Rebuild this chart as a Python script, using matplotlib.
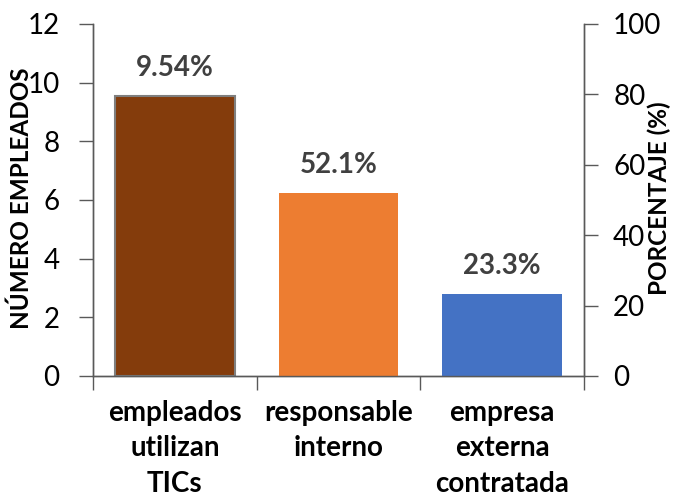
import matplotlib
matplotlib.use("Agg")
import matplotlib.pyplot as plt

# chart data
categories = ["empleados\nutilizan\nTICs", "responsable\ninterno", "empresa\nexterna\ncontratada"]
num_empleados = [9.54]          # left axis (first bar)
porcentajes = [52.1, 23.3]      # right axis (other bars)
bar_labels = ["9.54%", "52.1%", "23.3%"]
colors = ["#843C0C", "#ED7D31", "#4472C4"]

plt.rcParams["font.family"] = ["Lato", "DejaVu Sans"]
axis_color = "#595959"

fig = plt.figure(figsize=(6.82, 4.96), dpi=100)
ax = fig.add_axes([93 / 682, 1 - 376 / 496, 491 / 682, 352 / 496])
ax2 = ax.twinx()

x = list(range(len(categories)))
width = 0.73

ax.bar(x[0], num_empleados[0], width, color=colors[0], edgecolor="#7F7F7F", linewidth=1.5)
ax2.bar(x[1:], porcentajes, width, color=colors[1:], linewidth=0)

ax.set_ylim(0, 12)
ax2.set_ylim(0, 100)
ax.set_xlim(-0.5, 2.5)
ax.set_yticks(range(0, 13, 2))
ax2.set_yticks(range(0, 101, 20))

# value labels above bars
ax.text(x[0], num_empleados[0] + 0.5, bar_labels[0], ha="center", va="bottom",
        fontsize=20, fontweight="bold", color="#404040")
for xi, v, lab in zip(x[1:], porcentajes, bar_labels[1:]):
    ax2.text(xi, v + 4.2, lab, ha="center", va="bottom",
             fontsize=20, fontweight="bold", color="#404040")

# category ticks between bars
ax.set_xticks([-0.5, 0.5, 1.5, 2.5])
ax.set_xticklabels([])
ax.set_xticks(x, minor=True)
ax.set_xticklabels(categories, minor=True, fontsize=20, fontweight="bold", linespacing=1.45)
ax.tick_params(axis="x", which="minor", length=0, pad=17)
ax.tick_params(axis="x", which="major", length=10, width=1, color=axis_color, direction="out")

ax.tick_params(axis="y", length=10, width=1, color=axis_color, labelsize=20, pad=14)
ax2.tick_params(axis="y", length=10, width=1, color=axis_color, labelsize=20, pad=11)

for a in (ax, ax2):
    a.spines["top"].set_visible(False)
    for s in ("left", "right", "bottom"):
        a.spines[s].set_color(axis_color)
        a.spines[s].set_linewidth(1)

ax.set_ylabel("NÚMERO EMPLEADOS", fontsize=17.5, fontweight="bold")
ax.yaxis.set_label_coords(-0.122, 0.505)
ax2.set_ylabel("PORCENTAJE (%)", fontsize=17.5, fontweight="bold")
ax2.yaxis.set_label_coords(1.130, 0.505)

fig.savefig("out.png", dpi=100)
